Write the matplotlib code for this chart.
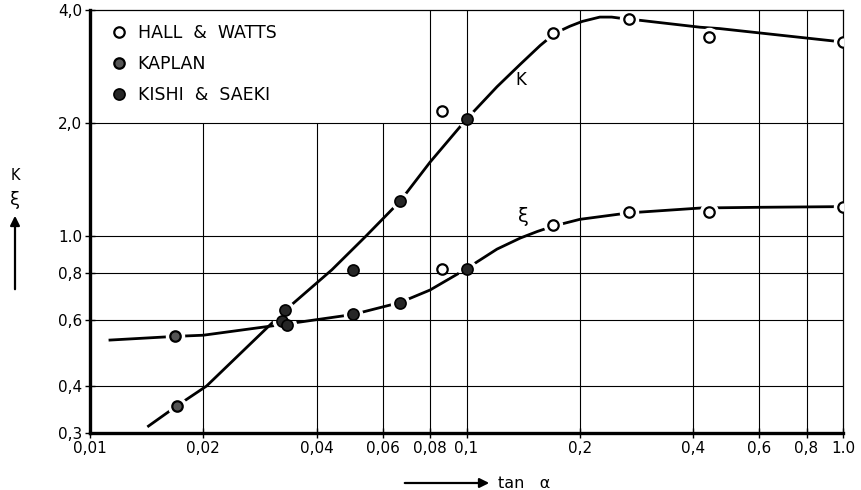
import matplotlib
matplotlib.use('Agg')
import matplotlib.pyplot as plt

hw_x = [0.086, 0.17, 0.27, 0.44, 1.0, 0.086, 0.17, 0.27, 0.44, 1.0]
hw_y = [2.15, 3.48, 3.78, 3.40, 3.28, 0.82, 1.07, 1.16, 1.16, 1.20]

kaplan_x = [0.0168, 0.0170]
kaplan_y = [0.542, 0.354]

kishi_x = [0.0330, 0.0324, 0.0333, 0.050, 0.050, 0.0666, 0.0665, 0.100, 0.100]
kishi_y = [0.636, 0.594, 0.580, 0.816, 0.620, 0.667, 1.24, 2.05, 0.82]

# drawn curves
k_x = [0.0143, 0.0170, 0.0204, 0.0330, 0.0439, 0.0537, 0.0666, 0.080,
       0.100, 0.1205, 0.139, 0.157, 0.170, 0.175, 0.188, 0.203, 0.226,
       0.243, 0.258, 0.270, 0.289, 0.417, 0.470, 0.940, 1.0]
k_y = [0.313, 0.354, 0.400, 0.636, 0.815, 0.995, 1.24, 1.575,
       2.05, 2.50, 2.87, 3.22, 3.44, 3.50, 3.62, 3.73, 3.83,
       3.83, 3.80, 3.78, 3.755, 3.60, 3.57, 3.31, 3.28]

xi_x = [0.0113, 0.0168, 0.020, 0.0333, 0.050, 0.0666, 0.080, 0.100,
        0.1066, 0.1205, 0.139, 0.154, 0.170, 0.200, 0.270, 0.420, 0.600, 1.0]
xi_y = [0.530, 0.542, 0.546, 0.585, 0.620, 0.667, 0.720, 0.82,
        0.855, 0.925, 0.99, 1.03, 1.065, 1.11, 1.155, 1.19, 1.195, 1.20]

x_ticks = [0.01, 0.02, 0.04, 0.06, 0.08, 0.1, 0.2, 0.4, 0.6, 0.8, 1.0]
x_labels = ['0,01', '0,02', '0,04', '0,06', '0,08', '0,1', '0,2', '0,4', '0,6', '0,8', '1.0']
y_ticks = [0.3, 0.4, 0.6, 0.8, 1.0, 2.0, 4.0]
y_labels = ['0,3', '0,4', '0,6', '0,8', '1.0', '2,0', '4,0']

fig = plt.figure(figsize=(8.61, 4.90), dpi=100)
ax = fig.add_axes([90 / 861, 57 / 490, 753 / 861, 423 / 490])
ax.set_xscale('log')
ax.set_yscale('log')
ax.set_xlim(0.01, 1.0)
ax.set_ylim(0.3, 4.0)

# grid: the box top-left (legend area) has no lines above 2.0
for x in x_ticks[1:-1]:
    top = 2.0 if x < 0.07 else 4.0
    ax.vlines(x, 0.3, top, color='black', lw=0.8, zorder=2.5)
for y in y_ticks[1:-1]:
    ax.axhline(y, color='black', lw=0.8, zorder=2.5)

ax.plot(k_x, k_y, color='black', lw=2.0, zorder=1, solid_joinstyle='round')
ax.plot(xi_x, xi_y, color='black', lw=2.0, zorder=1, solid_joinstyle='round')

# white halo so the curves stop short of the markers
all_x = hw_x + kaplan_x + kishi_x
all_y = hw_y + kaplan_y + kishi_y
ax.plot(all_x, all_y, 'o', ms=13, color='white', mec='white', ls='none', zorder=2)

ax.plot(hw_x, hw_y, 'o', ms=7.5, mfc='white', mec='black', mew=1.6, ls='none',
        zorder=4, label='HALL  &  WATTS')
ax.plot(kaplan_x, kaplan_y, 'o', ms=7.5, mfc='#555555', mec='black', mew=1.6, ls='none',
        zorder=4, label='KAPLAN')
ax.plot(kishi_x, kishi_y, 'o', ms=8, mfc='#262626', mec='black', mew=1.2, ls='none',
        zorder=4, label='KISHI  &  SAEKI')

ax.text(0.139, 2.61, 'K', fontsize=12, ha='center', va='center')
ax.text(0.142, 1.13, 'ξ', fontsize=14, ha='center', va='center')

ax.set_xticks(x_ticks)
ax.set_xticklabels(x_labels)
ax.set_yticks(y_ticks)
ax.set_yticklabels(y_labels)
ax.minorticks_off()
ax.tick_params(direction='inout', length=7, width=1.0, labelsize=11, pad=2)

ax.spines['left'].set_linewidth(2.4)
ax.spines['bottom'].set_linewidth(2.4)
ax.spines['top'].set_linewidth(0.9)
ax.spines['right'].set_linewidth(0.9)

ax.legend(loc='upper left', bbox_to_anchor=(0.0, 1.0), frameon=False, fontsize=12.5,
          handletextpad=0.25, labelspacing=0.75, borderaxespad=0.4, handlelength=1.7)

# axis captions with arrows
fig.text(15 / 861, 1 - 175 / 490, 'K', fontsize=10.5, ha='center', va='center')
fig.text(15 / 861, 1 - 200 / 490, 'ξ', fontsize=13, ha='center', va='center')
fig.add_artist(matplotlib.patches.FancyArrowPatch(
    (15 / 861, 1 - 292 / 490), (15 / 861, 1 - 213 / 490), transform=fig.transFigure,
    arrowstyle='-|>', mutation_scale=14, lw=1.6, color='black'))
fig.add_artist(matplotlib.patches.FancyArrowPatch(
    (402 / 861, 1 - 483 / 490), (492 / 861, 1 - 483 / 490), transform=fig.transFigure,
    arrowstyle='-|>', mutation_scale=14, lw=1.6, color='black'))
fig.text(498 / 861, 1 - 483 / 490, 'tan   α', fontsize=11.5, ha='left', va='center')

fig.savefig('out.png', dpi=100)
